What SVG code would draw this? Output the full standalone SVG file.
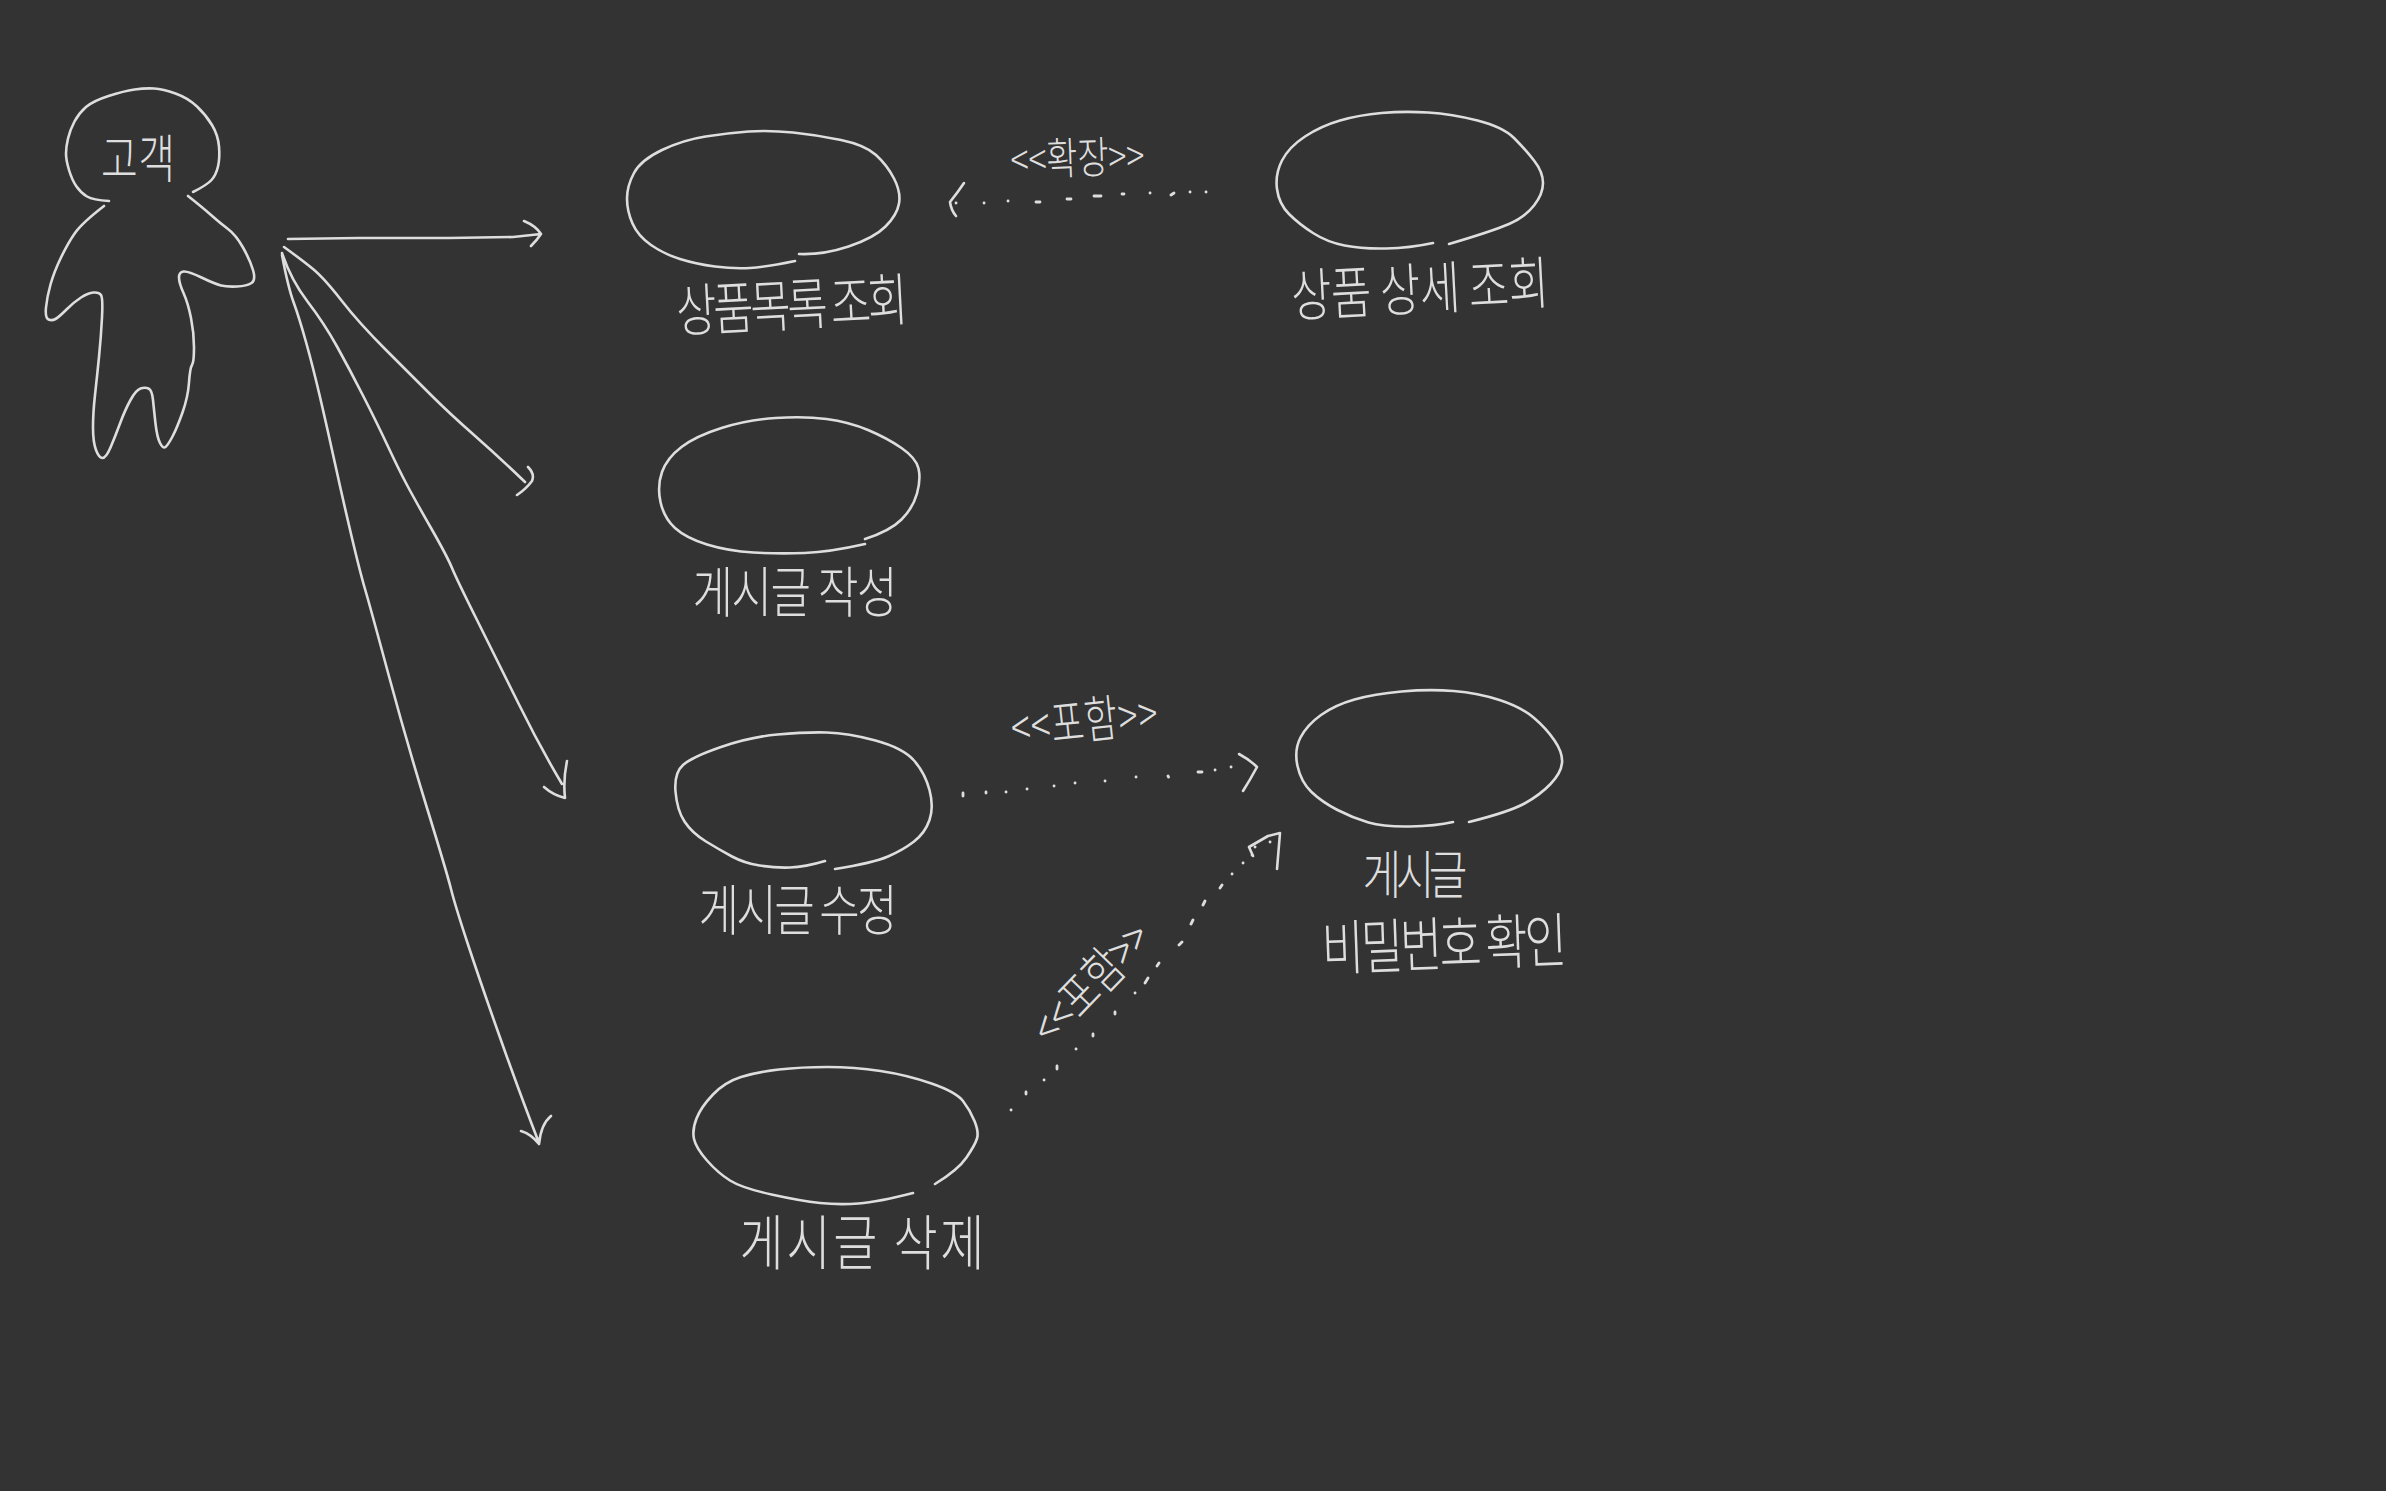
<svg xmlns="http://www.w3.org/2000/svg" width="2386" height="1491" viewBox="0 0 2386 1491">
<style>
.s{fill:none;stroke:#dedede;stroke-width:2.6;stroke-linecap:round;stroke-linejoin:round}
.d{fill:none;stroke:#dedede;stroke-width:2.8;stroke-linecap:round}
.t{font-family:"Noto Sans CJK KR","Noto Sans",sans-serif;font-weight:300;fill:#dedede;text-anchor:middle}
</style>
<rect width="2386" height="1491" fill="#333333"/>
<g id="connectors">
<path class="s" d="M288 239L359 238L449 238L513 237L541 234M524 221Q536 226 541 234Q537 240 531 246"/>
<path class="s" d="M284 247Q302 260 313 269T341.5 300.5T386 350T431 395T474 435T525 482M528 467Q535 474 532 481Q526 489 517 495"/>
<path class="s" d="M282 253Q291 280 307.5 301.5T337 346.5T363.5 396.5T388 446.5T407 485T431 528T452 568T477 620T518.5 703.5T562 784M567 761Q563 780 565 798Q553 795 544 787"/>
<path class="s" d="M282 255Q288 287 293.5 302T306 342T320 397T335 463.5T351.5 536T365 589T388.5 674.5T427 808T451 889T467.5 943T500 1037.5T539 1143M521 1131Q531 1134 539 1144Q541 1124 551 1116"/>
<path class="d" d="M956 203h.1M984 203h.1M1008 201h.1M1036 202h4M1067 199h4M1094 196h7M1122 194h2M1150 193h.1M1171 195l3-2M1190 192h.1M1206 192h.1"/>
<path class="s" d="M964 183Q958 192 950 202Q951 210 956 216"/>
<path class="d" d="M963 796v-3M986 793v-1M1006 792h.1M1027 789h.1M1054 786h.1M1075 783h.1M1105 781h.1M1136 777h.1M1168 776l.5 1M1198 772h4M1215 770h.1M1231 767h.1"/>
<path class="s" d="M1239 754Q1250 760 1257 767Q1250 780 1243 791"/>
<path class="d" d="M1011 1110h.1M1026 1094v-2M1044 1080h.1M1057 1069v-3M1076 1049h.1M1093 1036v-2M1115 1014v-2M1135 993h.1M1145 983l3-5M1157 966l2-3M1179 945l3-3M1191 924l2-4M1203 905l2-4M1220 888l2-3M1232 874h.1M1243 863h.1M1252 855h.1M1255 847h.1M1270 842h.1"/>
<path class="s" d="M1253 856L1249 847L1268 836L1280 833L1277 869"/>
</g>
<g id="actor">
<path class="s" d="M109 201Q93 200 87 196.5T76.5 186.5T69 170T66 153.5T68 138.5T74.5 121.5T86 107T108.5 96T134.5 89.5T154 88.5T175.5 93.5T197 106.5T212 125T219 146.5T218 166.5T211.5 180T193 192"/>
<path class="s" d="M104 206Q82 223 75 233T61 257.5T50.5 284.5T46 307.5T48.5 319.5T55.5 319T66.5 309.5T81 297.5T93.5 292.5T101 295T102 317.5T99 357T95 395T93 427.5T96 450T102.5 458T110.5 447.5T120 423.5T130.5 400T140.5 388.5T148.5 388.5T153 400T155.5 423.5T160 443T165.5 447T172.5 436.5T182.5 412.5T189 382.5T192 365T194 347.5T191 318T183.5 293T179 277.5T183.5 271.5T201.5 277.5T221 285.5T237 286.5T251.5 283T253 270T243 247.5T228 229T211 215T188 196"/>
<text class="t" transform="translate(138 178) scale(1 1.3)" font-size="40" textLength="74">고객</text>
</g>
<g id="node-list">
<path class="s" d="M795 261Q766 267 750 268T715 266.5T680 259T651 245T632.5 223.5T627 198.5T634 173T662 150T705.5 136.5T748.5 131.5T793 132.5T841 140T876 155T894 178.5T899 203.5T885.5 226.5T848.5 246.5T799 254"/>
<text class="t" transform="translate(793 326) rotate(-3) scale(1 1.3)" font-size="44" textLength="232">상품목록 조회</text>
</g>
<g id="node-detail">
<path class="s" d="M1433 243Q1410 248 1386 248.5T1344.5 245.5T1313 233T1289 214T1277 189T1282 160.5T1305 136.5T1340 120.5T1381.5 113T1428 112.5T1477.5 120.5T1514 138T1534 160.5T1543 183T1534 205.5T1509 224T1449 244"/>
<text class="t" transform="translate(1421 310) rotate(-3) scale(1 1.3)" font-size="44" textLength="258">상품 상세 조회</text>
</g>
<g id="node-write">
<path class="s" d="M865 544Q830 552 804.5 553T753.5 552.5T707 544.5T675 528T660.5 502T662 472T681.5 447T721.5 428T775.5 418T826.5 419T868 430T901.5 448T918.5 468.5T917 493.5T901.5 519.5T865 539"/>
<text class="t" transform="translate(795 612) scale(1 1.25)" font-size="44" textLength="205">게시글 작성</text>
</g>
<g id="node-edit">
<path class="s" d="M825 861Q805 867 790 867.5T759.5 865.5T732 856.5T706 841.5T684.5 821.5T675.5 791.5T683 765T721 747T777.5 734.5T826.5 732.5T875.5 740.5T914 760.5T929.5 790T929.5 820T914 841.5T888 856.5T835 869"/>
<text class="t" transform="translate(798 930) scale(1 1.25)" font-size="44" textLength="199">게시글 수정</text>
</g>
<g id="node-delete">
<path class="s" d="M913 1193Q878 1202 858.5 1203.5T820 1203T771.5 1194.5T730 1180.5T707 1160.5T694 1139T696.5 1118.5T713 1094.5T741 1077T779 1069.5T827.5 1067T880.5 1071T931.5 1083.5T963 1101T974.5 1121T977 1138.5T966.5 1157.5T935 1184"/>
<text class="t" transform="translate(862 1265) scale(1 1.25)" font-size="48" textLength="245">게시글 삭제</text>
</g>
<g id="node-password">
<path class="s" d="M1453 822Q1436 826 1410 826.5T1368.5 822.5T1337.5 810T1311.5 792T1297.5 766T1300.5 737.5T1321 715T1354.5 699.5T1401.5 691.5T1453.5 691T1499.5 700T1533.5 717.5T1554.5 740.5T1562 763T1550.5 784T1524.5 803.5T1469 822"/>
<text class="t" transform="translate(1415 894) scale(1 1.25)" font-size="42" textLength="105">게시글</text>
<text class="t" transform="translate(1445 966) rotate(-2) scale(1 1.3)" font-size="46" textLength="245">비밀번호 확인</text>
</g>
<g id="labels">
<text class="t" transform="translate(1078 174) rotate(-2) scale(1 1.3)" font-size="34" textLength="134">&lt;&lt;확장&gt;&gt;</text>
<text class="t" transform="translate(1086 739) rotate(-6) scale(1 1.4)" font-size="36" textLength="147">&lt;&lt;포함&gt;&gt;</text>
<text class="t" transform="translate(1104 995) rotate(-46) scale(1 1.3)" font-size="38" textLength="148">&lt;&lt;포함&gt;&gt;</text>
</g>
</svg>
